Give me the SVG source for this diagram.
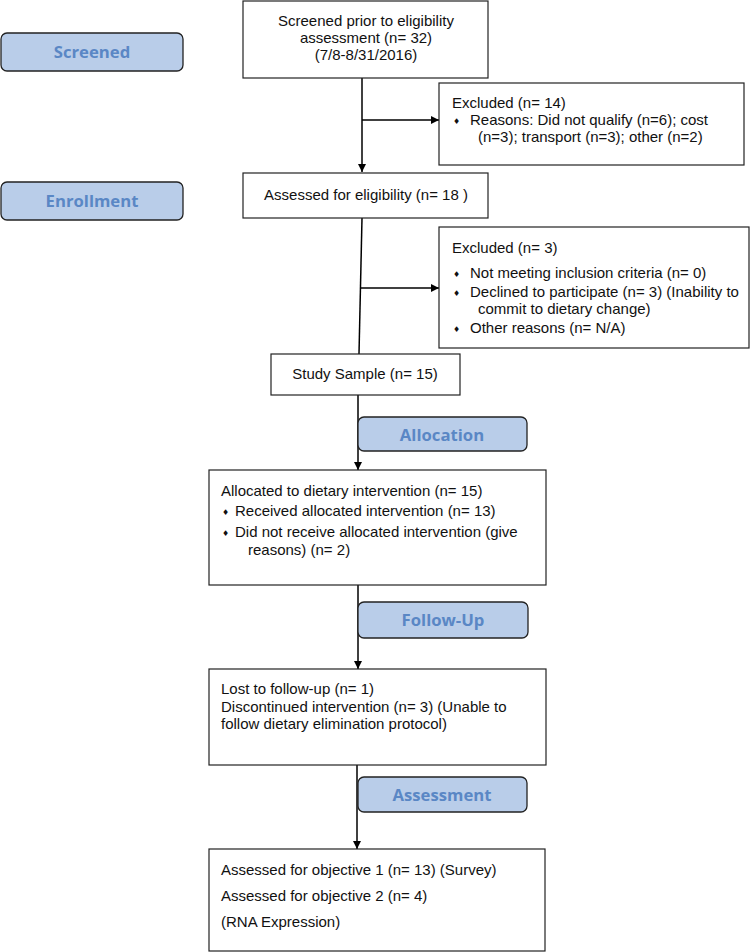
<svg xmlns="http://www.w3.org/2000/svg" width="750" height="952" viewBox="0 0 750 952">
<defs>
<marker id="arr" viewBox="0 0 10 10" refX="10" refY="5" markerWidth="8" markerHeight="8" markerUnits="userSpaceOnUse" orient="auto">
<path d="M0,0 L10,5 L0,10 Z" fill="#000"/>
</marker>
<style>
.box{fill:#fff;stroke:#222;stroke-width:1.2}
.lab{fill:#B9CDE9;stroke:#222;stroke-width:1.3}
.lt{font-family:"Open Sans","DejaVu Sans",sans-serif;font-weight:bold;font-size:16.7px;fill:#5A87C5;text-anchor:middle}
.t{font-family:"Liberation Sans",Arial,sans-serif;font-size:15px;fill:#111}
.c{text-anchor:middle}
.b{font-family:"DejaVu Sans",sans-serif;font-size:8px;fill:#111}
.ln{stroke:#000;stroke-width:1.5;fill:none}
</style>
</defs>
<rect width="750" height="952" fill="#fff"/>

<g id="label-screened"><rect class="lab" x="1" y="33" width="182" height="38" rx="6"/><text class="lt" x="92" y="58">Screened</text></g>
<g id="label-enrollment"><rect class="lab" x="1" y="182" width="182" height="38" rx="6"/><text class="lt" x="92" y="207">Enrollment</text></g>

<g id="connectors">
<line class="ln" x1="362" y1="78" x2="362" y2="172" marker-end="url(#arr)"/>
<line class="ln" x1="362" y1="120" x2="439" y2="120" marker-end="url(#arr)"/>
<line class="ln" x1="362" y1="218" x2="359" y2="354"/>
<line class="ln" x1="360" y1="288" x2="439" y2="288" marker-end="url(#arr)"/>
<line class="ln" x1="358" y1="395" x2="358" y2="470" marker-end="url(#arr)"/>
<line class="ln" x1="358" y1="585" x2="358" y2="669" marker-end="url(#arr)"/>
<line class="ln" x1="357" y1="765" x2="357" y2="849" marker-end="url(#arr)"/>
</g>

<g id="screened"><rect class="box" x="243" y="1" width="245" height="77"/>
<text class="t c" x="366" y="26">Screened prior to eligibility</text>
<text class="t c" x="366" y="43">assessment (n= 32)</text>
<text class="t c" x="366" y="60">(7/8-8/31/2016)</text></g>

<g id="excluded1"><rect class="box" x="439" y="83" width="305" height="82"/>
<text class="t" x="452" y="108">Excluded (n= 14)</text>
<text class="b" x="453" y="124">♦</text><text class="t" x="470" y="125">Reasons: Did not qualify (n=6); cost</text>
<text class="t" x="478" y="142">(n=3); transport (n=3); other (n=2)</text></g>

<g id="assessed"><rect class="box" x="243" y="173" width="245" height="45"/>
<text class="t c" x="366" y="200">Assessed for eligibility (n= 18 )</text></g>

<g id="excluded2"><rect class="box" x="439" y="227" width="310" height="121"/>
<text class="t" x="452" y="253">Excluded (n= 3)</text>
<text class="b" x="453" y="277">♦</text><text class="t" x="470" y="278">Not meeting inclusion criteria (n= 0)</text>
<text class="b" x="453" y="296">♦</text><text class="t" x="470" y="297">Declined to participate (n= 3) (Inability to</text>
<text class="t" x="478" y="314">commit to dietary change)</text>
<text class="b" x="453" y="332">♦</text><text class="t" x="470" y="333">Other reasons (n= N/A)</text></g>

<g id="sample"><rect class="box" x="271" y="354" width="189" height="41"/>
<text class="t c" x="365" y="379">Study Sample (n= 15)</text></g>

<g id="label-allocation"><rect class="lab" x="358" y="417" width="169" height="34" rx="6"/><text class="lt" x="442" y="441">Allocation</text></g>

<g id="allocated"><rect class="box" x="209" y="470" width="337" height="115"/>
<text class="t" x="221" y="496">Allocated to dietary intervention (n= 15)</text>
<text class="b" x="222" y="515">♦</text><text class="t" x="235" y="516">Received allocated intervention (n= 13)</text>
<text class="b" x="222" y="536">♦</text><text class="t" x="235" y="537">Did not receive allocated intervention (give</text>
<text class="t" x="248" y="555">reasons) (n= 2)</text></g>

<g id="label-followup"><rect class="lab" x="358" y="602" width="170" height="36" rx="6"/><text class="lt" x="443" y="626">Follow-Up</text></g>

<g id="lost"><rect class="box" x="209" y="669" width="337" height="96"/>
<text class="t" x="221" y="694">Lost to follow-up (n= 1)</text>
<text class="t" x="221" y="712">Discontinued intervention (n= 3) (Unable to</text>
<text class="t" x="221" y="729">follow dietary elimination protocol)</text></g>

<g id="label-assessment"><rect class="lab" x="358" y="777" width="169" height="35" rx="6"/><text class="lt" x="442" y="801">Assessment</text></g>

<g id="final"><rect class="box" x="209" y="849" width="336" height="102"/>
<text class="t" x="221" y="875">Assessed for objective 1 (n= 13) (Survey)</text>
<text class="t" x="221" y="901">Assessed for objective 2 (n= 4)</text>
<text class="t" x="221" y="927">(RNA Expression)</text></g>
</svg>
